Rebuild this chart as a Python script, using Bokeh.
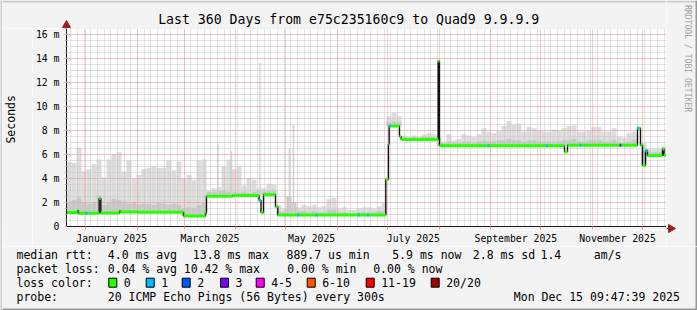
import pandas as pd
from math import pi
from bokeh.plotting import figure
from bokeh.layouts import row, column
from bokeh.models import (Range1d, FixedTicker, Grid, Label, BoxAnnotation,
                          ColumnDataSource)
from bokeh.embed import file_html
from bokeh.resources import INLINE

# ---------------- time base (x = days since 2024-12-20 00:00) ----------------
ORIGIN = pd.Timestamp("2024-12-20 00:00:00")
END = pd.Timestamp("2025-12-15 09:47:39")
START = END - pd.Timedelta(days=360)


def dday(t):
    return (pd.Timestamp(t) - ORIGIN) / pd.Timedelta(days=1)


X0, X1 = dday(START), dday(END)
Y_MAX = 16.53  # ms

# ---------------- data ----------------
month_label_names = ["January 2025", "March 2025", "May 2025",
                     "July 2025", "September 2025", "November 2025"]
y_tick_ms = [0, 2, 4, 6, 8, 10, 12, 14, 16]
y_tick_labels = ["0", "2 m", "4 m", "6 m", "8 m", "10 m", "12 m", "14 m", "16 m"]

# median rtt (ms) as a step series: day where each level starts, and the level
median_day = [0.41, 7.0, 7.6, 20.0, 21.0, 32.2, 32.8, 43.0, 70.6, 83.8, 84.4,
              100.0, 115.9, 117.1, 118.6, 125.8, 127.2, 192.0, 193.6, 194.0,
              200.2, 201.2, 223.4, 224.2, 299.2, 301.0, 343.0, 344.8, 346.0,
              347.8, 349.0, 358.0, 358.9]
median_ms = [1.16, 1.32, 1.10, 2.35, 1.12, 1.30, 1.21, 1.18, 0.88, 1.10, 2.53,
             2.58, 2.20, 1.16, 2.65, 1.65, 0.96, 3.93, 6.88, 8.40,
             7.52, 7.27, 13.8, 6.75, 6.25, 6.78, 8.2, 6.78, 5.1,
             6.33, 5.92, 6.47, 5.95]

# samples where the median carried packet loss (pings lost of 20)
loss_day = [12.4, 116.2, 139.6, 150.4, 175.8, 181.3, 194.5, 253.6, 288.7,
            308.8, 332.8, 343.3, 348.4]
loss_pings = [1, 1, 1, 1, 1, 1, 1, 1, 1, 1, 3, 1, 1]

loss_names = ["0", "1", "2", "3", "4-5", "6-10", "11-19", "20/20"]
loss_colors = ["#26ff00", "#00b8ff", "#0059ff", "#7e00ff", "#ff00ff",
               "#ff5500", "#ff0000", "#a10000"]

# smoke (ping spread), 3-day bins from the start: max ping and upper quartile (ms)
SMOKE_BIN_DAYS = 3
smoke_top = [5.4, 5.3, 6.6, 4.6, 4.8, 5.2, 5.6, 4.1, 5.6, 6.0,
             6.2, 4.6, 5.5, 4.0, 4.3, 4.8, 4.9, 5.0, 4.9, 4.9,
             5.5, 4.7, 5.4, 4.0, 4.3, 3.9, 5.5, 5.6, 3.0, 3.2,
             3.3, 5.0, 5.6, 4.8, 5.0, 3.4, 4.0, 3.9, 3.2, 3.2,
             3.6, 3.5, 1.8, 1.5, 1.6, 1.9, 1.6, 1.8, 1.7, 1.8,
             1.6, 1.7, 2.3, 2.4, 1.5, 1.6, 1.4, 1.4, 1.5, 1.6,
             1.6, 1.5, 1.7, 2.0, 9.2, 9.5, 9.2, 7.6, 7.5, 7.6,
             7.5, 7.7, 7.8, 7.7, 7.4, 7.1, 7.7, 7.2, 7.3, 7.7,
             7.6, 7.5, 7.7, 8.2, 7.9, 7.8, 8.0, 8.4, 8.8, 8.5,
             8.6, 7.9, 8.3, 8.2, 8.0, 7.9, 7.9, 8.1, 8.0, 8.2,
             8.4, 8.45, 7.9, 7.9, 8.0, 8.3, 8.3, 7.9, 7.9, 8.2,
             7.5, 7.4, 7.8, 7.9, 8.3, 7.0, 6.5, 6.5, 6.5, 6.7]
smoke_mid = [2.0, 2.2, 2.4, 2.0, 1.9, 2.0, 2.6, 1.8, 2.0, 2.3,
             2.2, 2.1, 1.9, 2.0, 1.8, 1.9, 1.9, 1.8, 2.0, 1.9,
             1.8, 1.9, 1.8, 1.5, 1.6, 1.5, 1.8, 2.0, 2.9, 2.9,
             3.0, 3.0, 2.9, 2.9, 2.8, 2.9, 2.8, 2.9, 3.0, 2.9,
             3.0, 3.0, 1.3, 1.2, 2.5, 2.0, 1.3, 1.3, 1.2, 1.3,
             1.2, 1.2, 1.4, 1.4, 1.2, 1.2, 1.1, 1.1, 1.2, 1.2,
             1.2, 1.2, 1.3, 1.3, 8.7, 8.8, 8.7, 7.45, 7.4, 7.45,
             7.4, 7.5, 7.5, 7.5, 7.0, 6.95, 7.1, 7.0, 7.0, 7.1,
             7.1, 7.0, 7.1, 7.2, 7.1, 7.1, 7.2, 7.2, 7.3, 7.2,
             7.2, 7.1, 7.2, 7.2, 7.1, 7.1, 7.1, 7.1, 7.1, 7.2,
             7.2, 7.3, 7.1, 7.1, 7.2, 7.2, 7.2, 7.1, 7.1, 7.2,
             7.0, 7.0, 7.1, 7.2, 7.4, 6.3, 6.2, 6.2, 6.2, 6.3]
# narrow smoke spikes
spike_day = [91.3, 99.4, 116.5, 134.2, 136.6]
spike_top = [6.9, 6.3, 13.7, 6.5, 8.5]

title_text = "Last 360 Days from e75c235160c9 to Quad9 9.9.9.9"
legend_rows = [
    [(16.0, "median rtt:"), (107.3, "4.0 ms avg"), (192.3, "13.8 ms max"),
     (286.0, "889.7 us min"), (391.7, "5.9 ms now"), (472.3, "2.8 ms sd"),
     (540.0, "1.4"), (593.3, "am/s")],
    [(16.0, "packet loss:"), (107.3, "0.04 % avg"), (183.3, "10.42 % max"),
     (286.7, "0.00 % min"), (372.7, "0.00 % now")],
    [(16.0, "loss color:")],
    [(16.0, "probe:"), (107.3, "20 ICMP Echo Pings (56 Bytes) every 300s"),
     (513.3, "Mon Dec 15 09:47:39 2025")],
]
legend_row_y = [254.3, 268.0, 282.3, 296.0]
swatch_label_x = [123.3, 160.7, 196.7, 235.0, 270.7, 321.7, 380.7, 445.7]

# ---------------- derived geometry ----------------
seg_start = list(median_day)
seg_end = median_day[1:] + [X1]


def median_at(d):
    v = median_ms[0]
    for s, m in zip(median_day, median_ms):
        if s <= d:
            v = m
    return v


def dominant_median(a, b):
    best, val = -1.0, median_ms[0]
    for s, e, v in zip(seg_start, seg_end, median_ms):
        ov = min(b, e) - max(a, s)
        if ov > best:
            best, val = ov, v
    return val


def loss_index(n):
    if n <= 3:
        return n
    if n <= 5:
        return 4
    if n <= 10:
        return 5
    if n <= 19:
        return 6
    return 7


FONT = "DejaVu Sans Mono"
BACK = "#f3f3f3"
SHADE_A = "#cbcbcb"
SHADE_B = "#999999"
AXIS_COL = "#1e1e1e"
ARROW_COL = "#9a1e1e"
GRID_MINOR = "#c4c4c4"
GRID_MAJOR = "#f49a9a"

# ---------------- helper panels (frame == canvas, data units == canvas px) ----
def panel(w, h, left, top):
    f = figure(width=w, height=h, output_backend="svg", toolbar_location=None,
               title=None, x_range=Range1d(left, left + w),
               y_range=Range1d(top + h, top), x_axis_location=None,
               y_axis_location=None, min_border=0)
    f.grid.visible = False
    f.outline_line_color = None
    f.background_fill_color = BACK
    f.border_fill_color = BACK
    return f


def text(f, px, py, s, size="11.5px", align="left", angle=0.0, color="black"):
    f.add_layout(Label(x=px, y=py, text=s, text_font=FONT, text_font_size=size,
                       text_align=align, text_baseline="middle", angle=angle,
                       text_color=color))


def shade(f, l, t, r, b, col):
    f.add_layout(BoxAnnotation(left=l, right=r, top=t, bottom=b, fill_color=col,
                               fill_alpha=1.0, line_color=None))


left_strip = panel(2, 310, 0, 0)
left_strip.background_fill_color = SHADE_A
left_strip.border_fill_color = SHADE_A

top = panel(664, 28, 2, 0)
shade(top, 2, 0, 666, 2, SHADE_A)
text(top, 348.2, 19.3, title_text, size="13.2px", align="center")
top.segment(x0=[66], y0=[28], x1=[66], y1=[23], line_color=AXIS_COL, line_width=1)
top.scatter(x=[66], y=[24.6], marker="triangle", size=8,
            fill_color=ARROW_COL, line_color=ARROW_COL)

sec = panel(30, 218, 2, 28)
text(sec, 10.8, 128.0, "Seconds", align="center", angle=pi / 2)

right = panel(31, 246, 666, 0)
shade(right, 666, 0, 697, 2, SHADE_A)
shade(right, 695, 0, 697, 246, SHADE_B)
text(right, 687.0, 4.5, "RRDTOOL / TOBI OETIKER", size="8.1px",
     angle=-pi / 2, color="#a0a0a0")
right.segment(x0=[666], y0=[228], x1=[670], y1=[228], line_color=AXIS_COL, line_width=1)
right.scatter(x=[670.4], y=[228], marker="triangle", size=8, angle=-pi / 2,
              fill_color=ARROW_COL, line_color=ARROW_COL)

legend = panel(695, 64, 2, 246)
shade(legend, 2, 308, 697, 310, SHADE_B)
shade(legend, 695, 246, 697, 310, SHADE_B)
for row_items, yy in zip(legend_rows, legend_row_y):
    for xx, s in row_items:
        text(legend, xx, yy, s)
legend.rect(x=[xx - 11 for xx in swatch_label_x], y=[282.2] * len(loss_colors),
            width=8, height=9, fill_color=loss_colors, line_color="black",
            line_width=1)
for xx, name in zip(swatch_label_x, loss_names):
    text(legend, xx, legend_row_y[2], name)

# ---------------- main chart ----------------
p = figure(width=634, height=218, output_backend="svg", toolbar_location=None,
           title=None, x_range=Range1d(X0, X1), y_range=Range1d(0, Y_MAX),
           min_border_left=34, min_border_right=0, min_border_top=0,
           min_border_bottom=18)
p.background_fill_color = "white"
p.border_fill_color = BACK
p.outline_line_color = None
p.xgrid.visible = False
p.ygrid.visible = False

# smoke
lefts, rights, bots, tops, mids = [], [], [], [], []
for i, (t, m) in enumerate(zip(smoke_top, smoke_mid)):
    a = X0 + SMOKE_BIN_DAYS * i
    b = min(a + SMOKE_BIN_DAYS, X1)
    base = dominant_median(a, b)
    lefts.append(a)
    rights.append(b)
    bots.append(base)
    tops.append(max(t, base))
    mids.append(max(m, base))
smoke_src = ColumnDataSource(dict(left=lefts, right=rights, bottom=bots,
                                  top=tops, mid=mids))
r1 = p.quad(left="left", right="right", bottom="bottom", top="top",
            source=smoke_src, fill_color="#dcdcdc", line_color=None)
r2 = p.quad(left="left", right="right", bottom="bottom", top="mid",
            source=smoke_src, fill_color="#c8c8c8", line_color=None)
spike_src = ColumnDataSource(dict(
    left=[d - 0.45 for d in spike_day], right=[d + 0.45 for d in spike_day],
    bottom=[median_at(d) for d in spike_day], top=spike_top))
r3 = p.quad(left="left", right="right", bottom="bottom", top="top",
            source=spike_src, fill_color="#d2d2d2", line_color=None)
for r in (r1, r2, r3):
    r.level = "image"

# grids
month_starts = pd.date_range("2025-01-01", END, freq="MS")
month_days = [dday(t) for t in month_starts]
minor_days = [dday(t) for t in pd.date_range("2024-12-23", END, freq="4D")]
half_ms = [k * 0.5 for k in range(int(Y_MAX / 0.5) + 1)]
p.add_layout(Grid(dimension=0, ticker=FixedTicker(ticks=minor_days),
                  grid_line_color=GRID_MINOR, grid_line_dash="1 1"))
p.add_layout(Grid(dimension=1, ticker=FixedTicker(ticks=half_ms),
                  grid_line_color=GRID_MINOR, grid_line_dash="1 1"))
p.add_layout(Grid(dimension=0, ticker=FixedTicker(ticks=month_days),
                  grid_line_color=GRID_MAJOR, grid_line_dash="1 1"))
p.add_layout(Grid(dimension=1, ticker=FixedTicker(ticks=y_tick_ms[1:]),
                  grid_line_color=GRID_MAJOR, grid_line_dash="1 1"))

# median line: black steps + loss coloured levels
p.step(x=median_day + [X1], y=median_ms + [median_ms[-1]], mode="after",
       line_color="#111111", line_width=1.4)
p.segment(x0=seg_start, y0=median_ms, x1=seg_end, y1=median_ms,
          line_color=loss_colors[0], line_width=3, line_cap="butt")
p.segment(x0=[d - 0.5 for d in loss_day], x1=[d + 0.5 for d in loss_day],
          y0=[median_at(d) for d in loss_day], y1=[median_at(d) for d in loss_day],
          line_color=[loss_colors[loss_index(n)] for n in loss_pings],
          line_width=3, line_cap="butt")

# axes
label_days = []
for name in month_label_names:
    s = pd.to_datetime(name, format="%B %Y")
    e = s + pd.offsets.MonthBegin(1)
    label_days.append(dday(s + (e - s) / 2))
xa = p.xaxis[0]
xa.ticker = FixedTicker(ticks=label_days, minor_ticks=month_days)
xa.major_label_overrides = {d: n for d, n in zip(label_days, month_label_names)}
xa.major_tick_line_color = None
xa.major_tick_out = 0
xa.major_tick_in = 0
xa.minor_tick_out = 3
xa.minor_tick_in = 0
xa.minor_tick_line_color = GRID_MAJOR
xa.axis_line_color = AXIS_COL
xa.major_label_standoff = 3
xa.major_label_text_font = FONT
xa.major_label_text_font_size = "9.8px"
xa.major_label_text_color = "black"

ya = p.yaxis[0]
ya.ticker = FixedTicker(ticks=y_tick_ms, minor_ticks=half_ms)
ya.major_label_overrides = {v: t for v, t in zip(y_tick_ms, y_tick_labels)}
ya.major_tick_out = 2
ya.major_tick_in = 0
ya.major_tick_line_color = GRID_MAJOR
ya.minor_tick_out = 2
ya.minor_tick_in = 0
ya.minor_tick_line_color = GRID_MINOR
ya.axis_line_color = AXIS_COL
ya.major_label_standoff = 5
ya.major_label_text_font = FONT
ya.major_label_text_font_size = "9.8px"
ya.major_label_text_color = "black"

layout = row(left_strip,
             column(row(column(top, row(sec, p)), right), legend))

open("out.html", "w").write(file_html(layout, INLINE))
